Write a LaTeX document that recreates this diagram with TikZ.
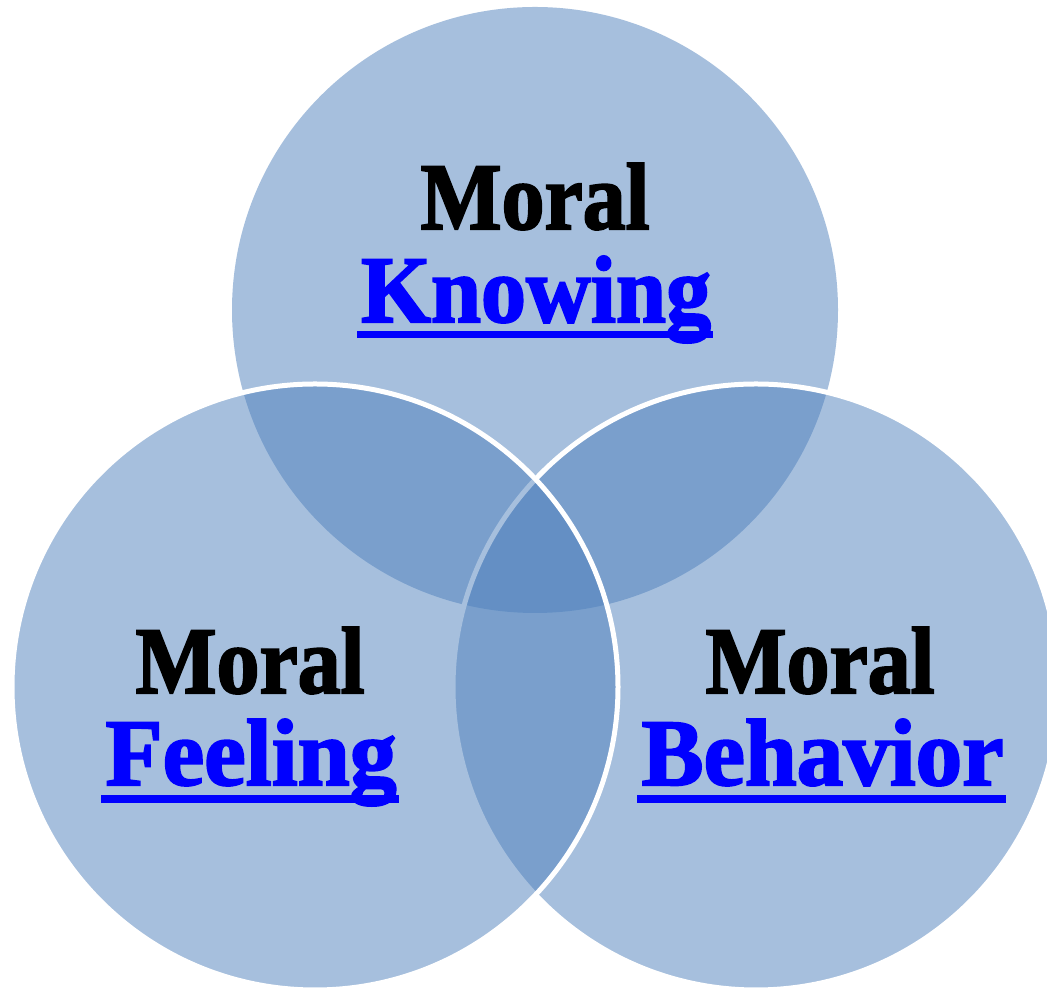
\documentclass[tikz,border=0pt]{standalone}
\usepackage{fontspec}
\setmainfont{Liberation Serif}[BoldFeatures={FakeBold=2.2}]
\usepackage{graphicx}
\definecolor{vennblue}{RGB}{79,129,189}
\definecolor{linkblue}{RGB}{0,0,255}
\tikzset{
  venn/.style={fill=vennblue, fill opacity=0.5},
  vennline/.style={venn, draw=white, line width=5pt},
  word/.style={inner sep=0pt, anchor=base, font=\bfseries\fontsize{95}{95}\selectfont},
  uline/.style={fill=linkblue}
}
\newcommand{\fitword}[2]{\resizebox{#1}{\height}{#2}}
\begin{document}
\begin{tikzpicture}[x=1pt,y=1pt]
\clip (0,0) rectangle (1047,992);
\fill[white] (0,0) rectangle (1047,992);
% circles
\path[venn] (535,682) circle (303);
\path[vennline] (756,305) circle (303);
\path[vennline] (315,305) circle (303);
% top
\node[word, text=black] (m1) at (535,763) {\fitword{229pt}{Moral}};
\node[word, text=linkblue] (k) at (536,670) {\fitword{350pt}{Knowing}};
\fill[uline] ([xshift=-4pt,yshift=-9pt]k.base west) rectangle ([xshift=2pt,yshift=-16pt]k.base east);
% left
\node[word, text=black] (m2) at (250,299) {\fitword{229pt}{Moral}};
\node[word, text=linkblue] (f) at (251,207) {\fitword{291pt}{Feeling}};
\fill[uline] ([xshift=-4pt,yshift=-10pt]f.base west) rectangle ([xshift=2pt,yshift=-18pt]f.base east);
% right
\node[word, text=black] (m3) at (820,299) {\fitword{229pt}{Moral}};
\node[word, text=linkblue] (b) at (822.5,207) {\fitword{362pt}{Behavior}};
\fill[uline] ([xshift=-4pt,yshift=-10pt]b.base west) rectangle ([xshift=2pt,yshift=-18pt]b.base east);
\end{tikzpicture}
\end{document}
